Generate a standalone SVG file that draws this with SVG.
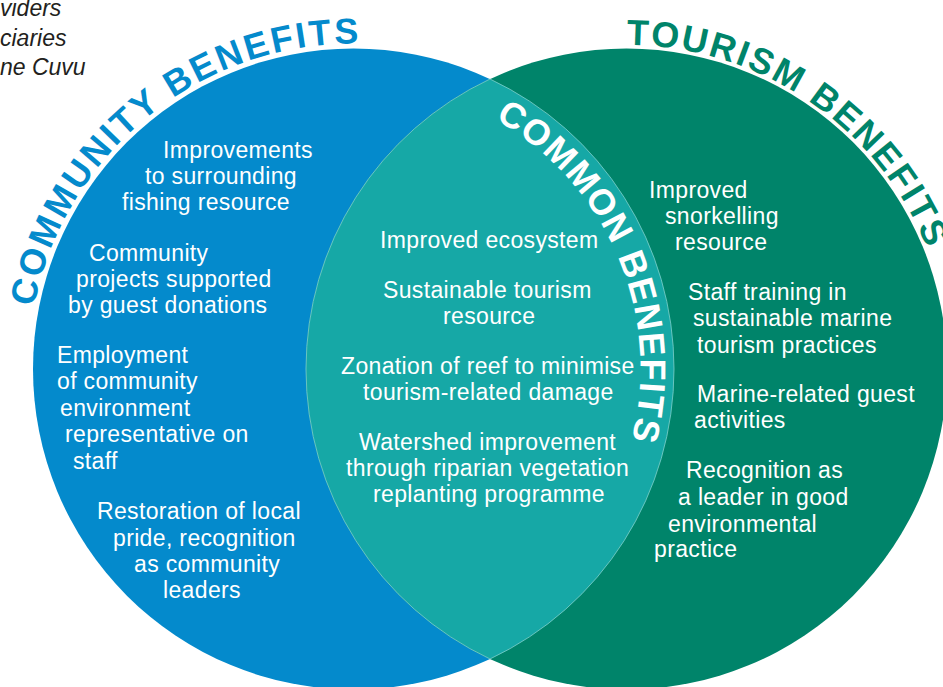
<svg xmlns="http://www.w3.org/2000/svg" width="943" height="687" viewBox="0 0 943 687">
  <style>
    .body { font-family: "Liberation Sans", Arial, sans-serif; font-size: 23px; fill: #ffffff; letter-spacing: 0.35px; }
    .title { font-family: "Liberation Sans", Arial, sans-serif; font-size: 36px; font-weight: bold; }
    .note { font-family: "Liberation Sans", Arial, sans-serif; font-size: 23px; font-style: italic; fill: #231f20; }
  </style>
  <defs>
    <!-- baseline arcs for the curved headings -->
    <path id="arcCommunity" d="M 33.98 306.89 A 325.5 325.5 0 0 1 516.25 87.11" fill="none"/>
    <path id="arcTourism" d="M 626.5 45 A 324 324 0 0 1 945.58 312.74" fill="none"/>
    <path id="arcCommon" d="M 494.82 119.21 A 287 287 0 0 1 623.19 467.16" fill="none"/>
  </defs>

  <rect width="943" height="687" fill="#ffffff"/>

  <!-- running text from the previous column -->
  <g id="margin-note" class="note">
    <text x="0" y="16">viders</text>
    <text x="0" y="46">ciaries</text>
    <text x="0" y="75">ne Cuvu</text>
  </g>

  <!-- community circle -->
  <g id="community">
    <circle cx="353.5" cy="369" r="320.5" fill="#048acc"/>
    <text class="title" fill="#048acc" letter-spacing="2.6"><textPath href="#arcCommunity">COMMUNITY BENEFITS</textPath></text>
  </g>

  <!-- tourism circle -->
  <g id="tourism">
    <circle cx="626.5" cy="369" r="320.5" fill="#00846a"/>
    <text class="title" fill="#00846a" letter-spacing="2.1"><textPath href="#arcTourism">TOURISM BENEFITS</textPath></text>
  </g>

  <!-- overlap lens -->
  <g id="common">
    <path d="M 490 79.02 A 320.5 320.5 0 0 1 490 658.98 A 320.5 320.5 0 0 1 490 79.02 Z" fill="#16a8a6" stroke="#7fd0cc" stroke-width="0.8"/>
    <text class="title" fill="#ffffff" font-size="35" letter-spacing="1.3"><textPath href="#arcCommon">COMMON BENEFITS</textPath></text>
  </g>

  <g id="community-items" class="body">
    <text x="163" y="158">Improvements</text>
    <text x="145" y="184">to surrounding</text>
    <text x="122" y="210">fishing resource</text>

    <text x="89" y="261">Community</text>
    <text x="76" y="287">projects supported</text>
    <text x="68" y="313">by guest donations</text>

    <text x="57" y="363">Employment</text>
    <text x="57" y="389">of community</text>
    <text x="60" y="416">environment</text>
    <text x="65" y="442">representative on</text>
    <text x="73" y="469">staff</text>

    <text x="97" y="519">Restoration of local</text>
    <text x="113" y="546">pride, recognition</text>
    <text x="134" y="572">as community</text>
    <text x="163" y="598">leaders</text>
  </g>

  <g id="common-items" class="body">
    <text x="380" y="248">Improved ecosystem</text>
    <text x="383" y="298">Sustainable tourism</text>
    <text x="443" y="324">resource</text>
    <text x="341" y="374">Zonation of reef to minimise</text>
    <text x="363" y="400">tourism-related damage</text>
    <text x="359" y="450">Watershed improvement</text>
    <text x="346" y="476">through riparian vegetation</text>
    <text x="373" y="502">replanting programme</text>
  </g>

  <g id="tourism-items" class="body">
    <text x="649" y="198">Improved</text>
    <text x="665" y="224">snorkelling</text>
    <text x="675" y="250">resource</text>
    <text x="688" y="300">Staff training in</text>
    <text x="693" y="326">sustainable marine</text>
    <text x="697" y="353">tourism practices</text>
    <text x="697" y="402">Marine-related guest</text>
    <text x="694" y="428">activities</text>
    <text x="686" y="478">Recognition as</text>
    <text x="678" y="505">a leader in good</text>
    <text x="668" y="532">environmental</text>
    <text x="654" y="557">practice</text>
  </g>
</svg>
